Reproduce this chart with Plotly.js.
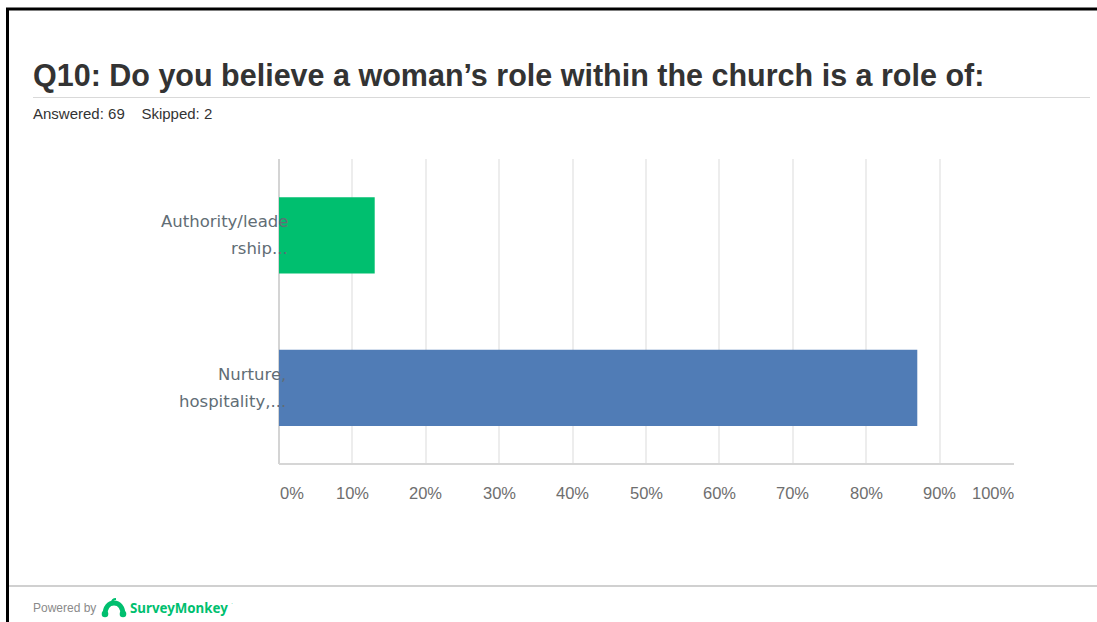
<!DOCTYPE html>
<html>
<head>
<meta charset="utf-8">
<script src="https://cdn.plot.ly/plotly-3.0.1.min.js"></script>
<style>
html,body{margin:0;padding:0;background:#fff;}
#chart{width:1097px;height:622px;}
</style>
</head>
<body>
<div id="chart"></div>
<script>
const categories = ["Authority/leadership...", "Nurture, hospitality,..."];
const categoryLabelLines = [["Authority/leade", "rship..."], ["Nurture,", "hospitality,..."]];
const percentValues = [13.04, 86.96];
const barColors = ["#00bf6f", "#507cb6"];
const tickValues = [0, 10, 20, 30, 40, 50, 60, 70, 80, 90, 100];
const tickLabels = ["0%", "10%", "20%", "30%", "40%", "50%", "60%", "70%", "80%", "90%", "100%"];
const titleText = "Q10: Do you believe a woman’s role within the church is a role of:";
const subText = "Answered: 69&nbsp;&nbsp;&nbsp;&nbsp;Skipped: 2";

const W = 1097, H = 622;
const X = p => p / W;
const Y = p => 1 - p / H;

const trace = {
  type: "bar",
  orientation: "h",
  y: categories,
  x: percentValues,
  width: 0.5,
  marker: {color: barColors, line: {width: 0}},
  hoverinfo: "none"
};

const annotations = [];
tickValues.forEach((v, i) => {
  let anchor = "center";
  if (i === 0) anchor = "left";
  if (i === tickValues.length - 1) anchor = "right";
  annotations.push({
    xref: "x", yref: "paper", x: v, y: Y(493),
    text: tickLabels[i], showarrow: false,
    xanchor: anchor, yanchor: "middle",
    xshift: (i === 0 ? -1 : (i === tickValues.length - 1 ? 4 : 0)),
    font: {family: "Liberation Sans, Arial, sans-serif", size: 16.5, color: "#6e6e6e"}
  });
});
categories.forEach((c, i) => {
  const lines = categoryLabelLines[i];
  lines.forEach((ln, j) => {
    annotations.push({
      xref: "x", yref: "y", x: 0, y: c,
      text: ln, showarrow: false,
      xanchor: "right", yanchor: "middle", align: "right",
      xshift: i === 0 ? 11 : 9,
      yshift: (lines.length - 1) * 13.5 - j * 27,
      font: {family: "DejaVu Sans, sans-serif", size: 16.5, color: "#616d75"}
    });
  });
});
annotations.push({
  xref: "paper", yref: "paper", x: X(31), y: Y(75),
  text: "<b>" + titleText + "</b>", showarrow: false,
  xanchor: "left", yanchor: "middle",
  font: {family: "Liberation Sans, Arial, sans-serif", size: 30.5, color: "#333333"}
});
annotations.push({
  xref: "paper", yref: "paper", x: X(31), y: Y(114),
  text: subText, showarrow: false,
  xanchor: "left", yanchor: "middle",
  font: {family: "Liberation Sans, Arial, sans-serif", size: 15, color: "#333333"}
});
annotations.push({
  xref: "paper", yref: "paper", x: X(31), y: Y(608),
  text: "Powered by", showarrow: false,
  xanchor: "left", yanchor: "middle",
  font: {family: "Liberation Sans, Arial, sans-serif", size: 12, color: "#8a8a8a"}
});
annotations.push({
  xref: "paper", yref: "paper", x: X(128), y: Y(608),
  text: "<b>SurveyMonkey</b>", showarrow: false,
  xanchor: "left", yanchor: "middle",
  font: {family: "Noto Sans, sans-serif", size: 13.3, color: "#00bf6f"}
});
annotations.push({
  xref: "paper", yref: "paper", x: X(229), y: Y(603),
  text: "·", showarrow: false,
  xanchor: "left", yanchor: "middle",
  font: {family: "Liberation Sans, Arial, sans-serif", size: 6, color: "#00bf6f"}
});

const logoSvg = '<svg xmlns="http://www.w3.org/2000/svg" width="26" height="20" viewBox="0 0 26 20">' +
  '<path d="M4 17 C4 9 8 5 13 5 C18 5 22 9 22 17" fill="none" stroke="#00bf6f" stroke-width="5"/>' +
  '<circle cx="4" cy="16" r="3.3" fill="#00bf6f"/><circle cx="22" cy="16" r="3.3" fill="#00bf6f"/>' +
  '<path d="M11 5 C11 2 13 1 15 1" fill="none" stroke="#00bf6f" stroke-width="2"/>' +
  '</svg>';

const layout = {
  width: W, height: H,
  margin: {l: 0, r: 0, t: 0, b: 0},
  paper_bgcolor: "#ffffff",
  plot_bgcolor: "#ffffff",
  showlegend: false,
  bargap: 0.5,
  xaxis: {
    domain: [X(279), X(1013)],
    range: [0, 100],
    tickvals: tickValues,
    showticklabels: false,
    showgrid: true, gridcolor: "#ededed", gridwidth: 2,
    zeroline: true, zerolinecolor: "#d4d4d4", zerolinewidth: 2,
    showline: false,
    fixedrange: true
  },
  yaxis: {
    domain: [Y(464), Y(159)],
    range: [1.5, -0.5],
    type: "category",
    showticklabels: false,
    showgrid: false, zeroline: false,
    showline: false,
    fixedrange: true
  },
  shapes: [
    {type: "line", xref: "paper", yref: "paper", x0: X(279), x1: X(1014), y0: Y(464), y1: Y(464), line: {color: "#d6d6d6", width: 2}},
    {type: "line", xref: "paper", yref: "paper", x0: X(6), x1: 1, y0: Y(9), y1: Y(9), line: {color: "#000000", width: 3}},
    {type: "line", xref: "paper", yref: "paper", x0: X(7.5), x1: X(7.5), y0: Y(8), y1: 0, line: {color: "#000000", width: 3}},
    {type: "line", xref: "paper", yref: "paper", x0: X(33), x1: X(1090), y0: Y(97.5), y1: Y(97.5), line: {color: "#d9d9d9", width: 1}},
    {type: "line", xref: "paper", yref: "paper", x0: X(9), x1: 1, y0: Y(586), y1: Y(586), line: {color: "#d0d0d0", width: 2}}
  ],
  images: [{
    source: "data:image/svg+xml;charset=utf-8," + encodeURIComponent(logoSvg),
    xref: "paper", yref: "paper",
    x: X(101), y: Y(598), sizex: X(26), sizey: 20 / H,
    xanchor: "left", yanchor: "top", sizing: "stretch", layer: "above"
  }],
  annotations: annotations
};

Plotly.newPlot("chart", [trace], layout, {displayModeBar: false, staticPlot: true});
</script>
</body>
</html>
